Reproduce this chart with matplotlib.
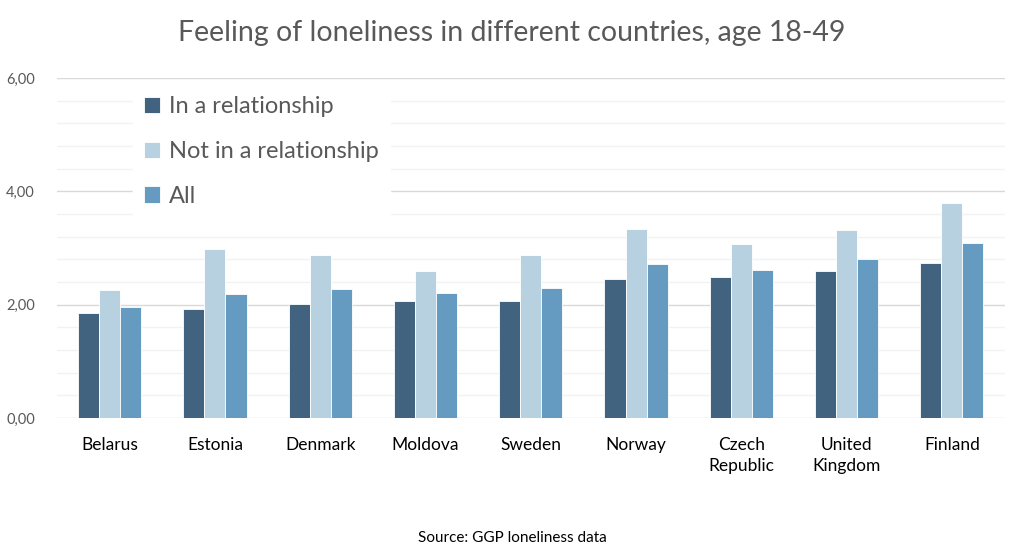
import numpy as np
import matplotlib.pyplot as plt
from matplotlib.ticker import MultipleLocator, FuncFormatter

plt.rcParams['font.family'] = ['Lato', 'DejaVu Sans']

countries = ['Belarus', 'Estonia', 'Denmark', 'Moldova', 'Sweden', 'Norway',
             'Czech\nRepublic', 'United\nKingdom', 'Finland']
in_rel = [1.85, 1.92, 2.01, 2.06, 2.07, 2.46, 2.48, 2.59, 2.74]
not_rel = [2.26, 2.98, 2.88, 2.59, 2.87, 3.33, 3.08, 3.32, 3.80]
all_ = [1.95, 2.19, 2.28, 2.21, 2.29, 2.71, 2.62, 2.81, 3.09]

series = [('In a relationship', in_rel, '#41637F'),
          ('Not in a relationship', not_rel, '#B8D1E1'),
          ('All', all_, '#659BC0')]

fig = plt.figure(figsize=(10.24, 5.58), dpi=100)
ax = fig.add_axes([0.0557, 0.251, 0.9253, 0.609])

x = np.arange(len(countries))
w = 0.2
for i, (name, vals, col) in enumerate(series):
    ax.bar(x + (i - 1) * w, vals, w, color=col, edgecolor='white', linewidth=0.6,
           label=name, zorder=3)

ax.set_xlim(-0.5, len(countries) - 0.5)
ax.set_ylim(0, 6)
ax.yaxis.set_major_locator(MultipleLocator(2))
ax.yaxis.set_minor_locator(MultipleLocator(0.4))
ax.yaxis.set_major_formatter(FuncFormatter(lambda v, p: f'{v:.2f}'.replace('.', ',')))
ax.grid(axis='y', which='major', color='#D9D9D9', linewidth=1, zorder=0)
ax.grid(axis='y', which='minor', color='#F2F2F2', linewidth=1, zorder=0)
for s in ax.spines.values():
    s.set_visible(False)
ax.tick_params(axis='both', which='both', length=0)
ax.tick_params(axis='y', labelsize=10.5, labelcolor='#595959', pad=16)
ax.set_xticks(x)
ax.set_xticklabels(countries, fontsize=12.5, color='black', linespacing=1.35)
ax.tick_params(axis='x', pad=14)

leg = ax.legend(loc='upper left', bbox_to_anchor=(0.068, 1.012), fontsize=17,
                frameon=True, framealpha=1, edgecolor='white', labelcolor='#595959',
                handlelength=0.68, handleheight=0.68, handletextpad=0.4,
                labelspacing=1.0, borderpad=0.45)
leg.set_zorder(4)

fig.text(0.5, 0.94, 'Feeling of loneliness in different countries, age 18-49',
         ha='center', va='center', fontsize=20.5, color='#595959')
fig.text(0.5, 0.035, 'Source: GGP loneliness data', ha='center', va='center',
         fontsize=11, color='black')

fig.savefig('out.png', dpi=100)
